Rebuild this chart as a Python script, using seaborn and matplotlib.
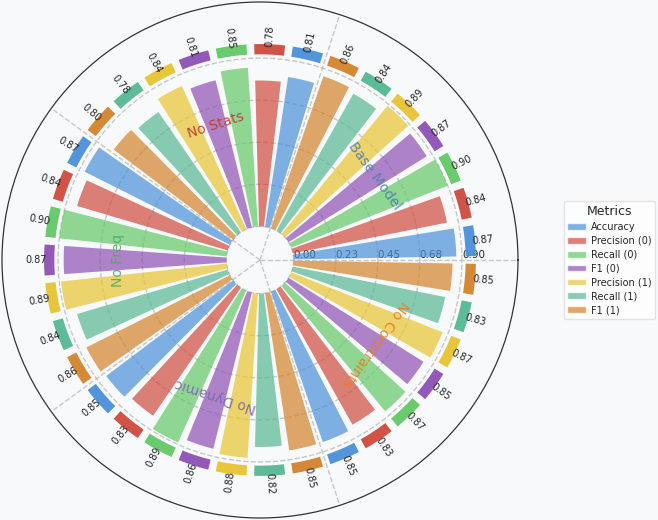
import numpy as np
import pandas as pd
import matplotlib
matplotlib.use('Agg')
import matplotlib.pyplot as plt
import seaborn as sns
from matplotlib.patches import Patch

# Data
groups = ['Base Model', 'No Stats', 'No Freq', 'No Dynamic', 'No Constraints']
metrics = ['Accuracy', 'Precision (0)', 'Recall (0)', 'F1 (0)', 'Precision (1)', 'Recall (1)', 'F1 (1)']
base_model = [0.87, 0.84, 0.90, 0.87, 0.89, 0.84, 0.86]
no_stats = [0.81, 0.78, 0.85, 0.81, 0.84, 0.78, 0.80]
no_freq = [0.87, 0.84, 0.90, 0.87, 0.89, 0.84, 0.86]
no_dynamic = [0.85, 0.83, 0.89, 0.86, 0.88, 0.82, 0.85]
no_constraints = [0.85, 0.83, 0.87, 0.85, 0.87, 0.83, 0.85]

metric_colors = ['#4a90d9', '#cf4a3e', '#62c866', '#8e50b5', '#e8c430', '#56b893', '#d4822b']
group_colors = ['#4c7fb0', '#c0392b', '#55a868', '#7b68ae', '#e67e22']

sns.set_style('white')
plt.rcParams['font.family'] = ['DejaVu Sans']

df = pd.DataFrame({
    'group': np.repeat(groups, len(metrics)),
    'metric': metrics * len(groups),
    'value': base_model + no_stats + no_freq + no_dynamic + no_constraints,
})

n = len(df)
step = 2 * np.pi / n
df['theta'] = (np.arange(n) + 0.5) * step
df['color'] = metric_colors * len(groups)

bg = '#f8f9fa'
fig = plt.figure(figsize=(6.58, 5.2), dpi=100, facecolor=bg)
ax = fig.add_axes([2 / 658, 2 / 520, 516 / 658, 516 / 520], projection='polar')
ax.set_facecolor(bg)

# main bars
ax.bar(df['theta'], df['value'], width=step * 0.8, bottom=0,
       color=df['color'], alpha=0.7, edgecolor='none', zorder=2)

# thin marker arcs near the rim
ax.bar(df['theta'], 0.055, width=step * 0.8, bottom=0.92,
       color=df['color'], alpha=0.95, edgecolor='none', zorder=2)

# value labels
for th, v in zip(df['theta'], df['value']):
    deg = np.degrees(th)
    if 90 < deg < 270:
        rot, ha = deg - 180, 'right'
    else:
        rot, ha = deg, 'left'
    ax.text(th, 0.96, f'{v:.2f}', rotation=rot, rotation_mode='anchor',
            ha=ha, va='center', fontsize=7, color='#222222', zorder=4)

# group labels
for i, g in enumerate(groups):
    th = (i + 0.5) * 2 * np.pi / len(groups)
    ax.text(th, 0.58, g, rotation=np.degrees(th) - 90, ha='center', va='center',
            fontsize=10, color=group_colors[i], alpha=0.9, zorder=5)

max_val = df['value'].max()
ax.set_ylim(-0.18, 1.2)
rticks = np.linspace(0, max_val, 5)
ax.set_yticks(rticks)
ax.set_yticklabels([f'{t:.2f}' for t in rticks], fontsize=7.5, color='#222222')
ax.set_rlabel_position(0)
ax.set_xticks(np.arange(len(groups)) * 2 * np.pi / len(groups))
ax.set_xticklabels([])
ax.grid(True, linestyle='--', color='#bbbbbb', linewidth=1, alpha=0.8)
ax.spines['polar'].set_color('#333333')
ax.spines['polar'].set_linewidth(0.9)

handles = [Patch(facecolor=c, alpha=0.7, label=m) for c, m in zip(metric_colors, metrics)]
leg = fig.legend(handles=handles, title='Metrics', loc='center left',
                 bbox_to_anchor=(564 / 658, 0.5), fontsize=7, title_fontsize=9,
                 frameon=True, facecolor='white', edgecolor='#dddddd',
                 handlelength=1.9, handletextpad=0.55, borderpad=0.35,
                 labelspacing=0.4, borderaxespad=0)

fig.savefig('out.png', dpi=100, facecolor=bg)
